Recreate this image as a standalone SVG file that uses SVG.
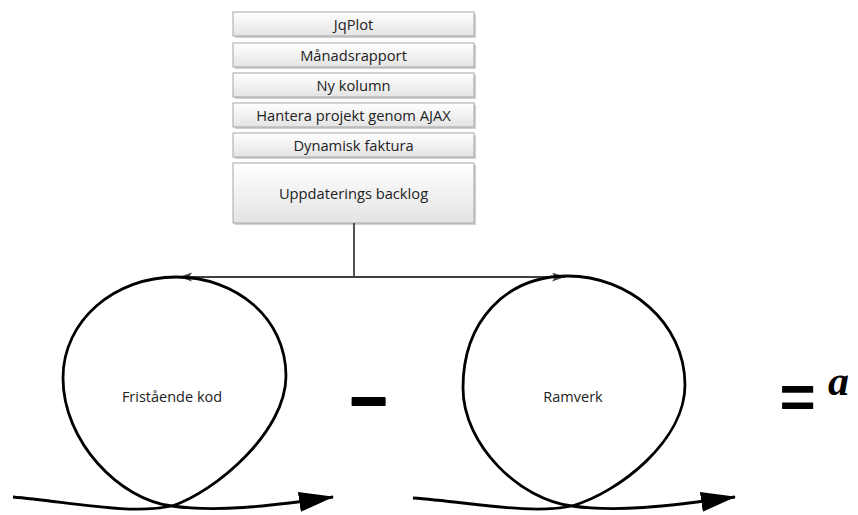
<svg xmlns="http://www.w3.org/2000/svg" width="858" height="515" viewBox="0 0 858 515">
<style>
.box{fill:url(#g);stroke:#a6a6a6;stroke-width:1}
.sh{fill:#d0d0d0}
.lbl{font-family:"Open Sans","Liberation Sans",sans-serif;font-size:14.7px;fill:#222;text-anchor:middle}
.ll{font-size:14.5px}
.loop{fill:none;stroke:#000;stroke-width:2.8}
.conn{fill:none;stroke:#404040;stroke-width:1.8}
</style>
<defs>
<linearGradient id="g" x1="0" y1="0" x2="0" y2="1">
<stop offset="0" stop-color="#ffffff"/>
<stop offset="1" stop-color="#e4e4e4"/>
</linearGradient>
<marker id="big" markerUnits="userSpaceOnUse" markerWidth="36" markerHeight="22" refX="34" refY="10" orient="auto">
<path d="M0,0 L35,10 L0,20 z" fill="#000"/>
</marker>
<marker id="sm" markerUnits="userSpaceOnUse" markerWidth="14" markerHeight="10" refX="13" refY="4.5" orient="auto">
<path d="M0,0 L13,4.5 L0,9 L3,4.5 z" fill="#404040"/>
</marker>
</defs>

<g id="n-jqplot"><rect class="sh" x="235" y="14" width="241" height="24"/><rect class="box" x="233" y="12" width="241" height="24"/><text class="lbl" x="353.5" y="29.5">JqPlot</text></g>
<g id="n-manadsrapport"><rect class="sh" x="235" y="45" width="241" height="24"/><rect class="box" x="233" y="43" width="241" height="24"/><text class="lbl" x="353.5" y="60.5">Månadsrapport</text></g>
<g id="n-nykolumn"><rect class="sh" x="235" y="75" width="241" height="24"/><rect class="box" x="233" y="73" width="241" height="24"/><text class="lbl" x="353.5" y="90.5">Ny kolumn</text></g>
<g id="n-hantera"><rect class="sh" x="235" y="105" width="241" height="24"/><rect class="box" x="233" y="103" width="241" height="24"/><text class="lbl" x="353.5" y="120.5">Hantera projekt genom AJAX</text></g>
<g id="n-dynamisk"><rect class="sh" x="235" y="135" width="241" height="24"/><rect class="box" x="233" y="133" width="241" height="24"/><text class="lbl" x="353.5" y="150.5">Dynamisk faktura</text></g>
<g id="n-backlog"><rect class="sh" x="235" y="165" width="241" height="60"/><rect class="box" x="233" y="163" width="241" height="60"/><text class="lbl" x="353.5" y="198.5">Uppdaterings backlog</text></g>

<g id="connectors">
<path class="conn" d="M354,223 V277"/>
<path class="conn" d="M354,277 H179" marker-end="url(#sm)"/>
<path class="conn" d="M354,277 H565" marker-end="url(#sm)"/>
</g>

<g id="n-fristaende">
<path class="loop" d="M13,497 C70,502 130,515 172,506 C215,492 286,432 286,376 C286,318 236,277 176,277 C115,277 63,320 63,378 C63,442 120,500 172,506 C215,512 265,507 333,497" marker-end="url(#big)"/>
<text class="lbl ll" x="172" y="402">Fristående kod</text>
</g>

<g id="n-ramverk">
<path class="loop" d="M413,498 C470,502 530,515 572,506 C620,492 685,440 685,385 C685,322 628,276 568,276 C505,276 463,322 463,388 C463,445 520,500 572,506 C615,512 665,507 735,497" marker-end="url(#big)"/>
<text class="lbl ll" x="573" y="402">Ramverk</text>
</g>

<g id="ops">
<text x="368.5" y="423" font-family="Liberation Sans" font-weight="bold" font-size="64" text-anchor="middle" stroke="#000" stroke-width="2" stroke-linejoin="round">−</text>
<text x="797.5" y="418" font-family="Liberation Sans" font-weight="bold" font-size="62" text-anchor="middle">=</text>
<text x="828" y="395" font-family="Liberation Serif" font-weight="bold" font-style="italic" font-size="42">a</text>
</g>
</svg>
